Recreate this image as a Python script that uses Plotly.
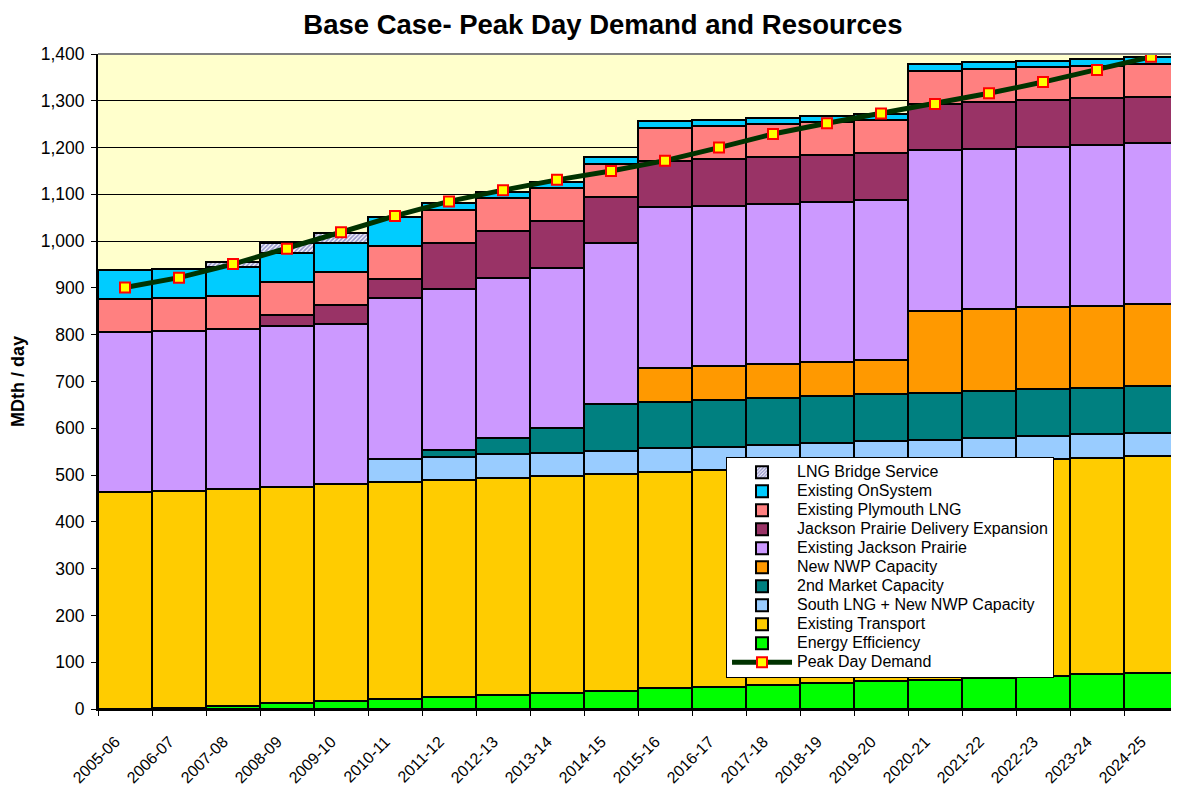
import plotly.graph_objects as go

years = [
    "2005-06", "2006-07", "2007-08", "2008-09", "2009-10", "2010-11", "2011-12",
    "2012-13", "2013-14", "2014-15", "2015-16", "2016-17", "2017-18", "2018-19",
    "2019-20", "2020-21", "2021-22", "2022-23", "2023-24", "2024-25",
]

# MDth/day (stack order bottom -> top)
energy_efficiency = [0, 3, 7, 12, 17, 22, 26, 31, 35, 39, 44, 48, 52, 56, 60, 63, 67, 71, 74, 78]
existing_transport = [463] * 20
south_lng_nwp = [None] * 5 + [50] * 15
second_market = [None] * 6 + [15, 35, 52] + [100] * 11
new_nwp = [None] * 10 + [72] * 5 + [175] * 5
existing_jp = [343] * 20
jp_delivery = [None, None, None, 24, 41, 41] + [100] * 14
plymouth_lng = [70] * 20
onsystem = [62] * 6 + [14] * 14
lng_bridge = [None, None, 10, 22, 22] + [None] * 15
peak_day = [901, 922, 951, 984, 1019, 1054, 1085, 1109, 1131, 1150,
            1172, 1200, 1229, 1252, 1273, 1293, 1316, 1340, 1366, 1394]

FONT = "Liberation Sans, Arial, sans-serif"

# (name, values, colour, legend rank)
stack = [
    ("Energy Efficiency", energy_efficiency, "#00FF00", 10),
    ("Existing Transport", existing_transport, "#FFCC00", 9),
    ("South LNG + New NWP Capacity", south_lng_nwp, "#99CCFF", 8),
    ("2nd Market Capacity", second_market, "#008080", 7),
    ("New NWP Capacity", new_nwp, "#FF9900", 6),
    ("Existing Jackson Prairie", existing_jp, "#CC99FF", 5),
    ("Jackson Prairie Delivery Expansion", jp_delivery, "#993366", 4),
    ("Existing Plymouth LNG", plymouth_lng, "#FF8080", 3),
    ("Existing OnSystem", onsystem, "#00CCFF", 2),
]

# bars sit on a numeric axis so the year labels can hang a bit left of centre
xpos = list(range(len(years)))


def legend_name(s):
    # bigger text than the legend font so rows stay tight like the original
    return f'<span style="font-size:16px">{s}</span>'


fig = go.Figure()
for name, vals, color, rank in stack:
    fig.add_trace(go.Bar(
        name=legend_name(name),
        x=xpos,
        y=vals,
        width=1,
        marker=dict(color=color, line=dict(color="black", width=2)),
        legendrank=rank,
    ))

fig.add_trace(go.Bar(
    name=legend_name("LNG Bridge Service"),
    x=xpos,
    y=lng_bridge,
    width=1,
    marker=dict(
        color="white",
        line=dict(color="black", width=2),
        pattern=dict(shape="/", fgcolor="#333399", bgcolor="white", size=3, solidity=0.6),
    ),
    legendrank=1,
))

fig.add_trace(go.Scatter(
    name=legend_name("Peak Day Demand"),
    x=xpos,
    y=peak_day,
    mode="lines+markers",
    line=dict(color="#003300", width=5),
    marker=dict(symbol="square", size=10, color="#FFFF00", line=dict(color="#FF0000", width=2)),
    legendrank=11,
))

# the page puts the figure 8px in from the top-left corner, so size it to fit
fig.update_layout(
    barmode="stack",
    bargap=0,
    width=1171,
    height=782,
    paper_bgcolor="white",
    plot_bgcolor="#FFFFCC",
    font=dict(family=FONT, color="black"),
    title=dict(
        text="<b>Base Case- Peak Day Demand and Resources</b>",
        font=dict(size=27.5, family=FONT),
        x=0.508, xanchor="center", y=0.979, yanchor="middle",
    ),
    margin=dict(l=90, r=1, t=46, b=81, autoexpand=False),
    legend=dict(
        x=0.5815, y=0.385, xanchor="left", yanchor="top",
        bgcolor="white", bordercolor="black", borderwidth=1,
        font=dict(size=12, family=FONT),
        traceorder="normal",
        itemwidth=60,
    ),
    showlegend=True,
)

fig.update_xaxes(
    range=[-0.5, len(years) - 0.5],
    automargin=False,
    tickmode="array",
    tickvals=[i - 0.18 for i in xpos],
    ticktext=years,
    ticks="outside",
    ticklen=5,
    tickcolor="rgba(0,0,0,0)",
    minor=dict(
        tickmode="array",
        tickvals=[i - 0.5 for i in range(len(years) + 1)],
        ticks="outside",
        ticklen=5,
        tickcolor="black",
        showgrid=False,
    ),
    tickangle=-45,
    ticklabelstandoff=10,
    tickfont=dict(size=16),
    showline=True,
    linecolor="black",
    linewidth=2,
    showgrid=False,
    zeroline=False,
)

fig.update_yaxes(
    automargin=False,
    range=[0, 1400],
    dtick=100,
    tickformat=",d",
    ticks="outside",
    ticklen=5,
    tickcolor="black",
    tickfont=dict(size=17.5),
    ticklabelstandoff=3,
    showgrid=True,
    gridcolor="black",
    gridwidth=1,
    zeroline=False,
    showline=True,
    linecolor="black",
    linewidth=2,
    title=dict(text="<b>MDth / day</b>", font=dict(size=18), standoff=14),
)

# grey frame along the top of the plot area
fig.add_shape(type="line", xref="paper", yref="paper", x0=0, x1=1, y0=1, y1=1,
              line=dict(color="#808080", width=2))

fig.write_html("out.html")
